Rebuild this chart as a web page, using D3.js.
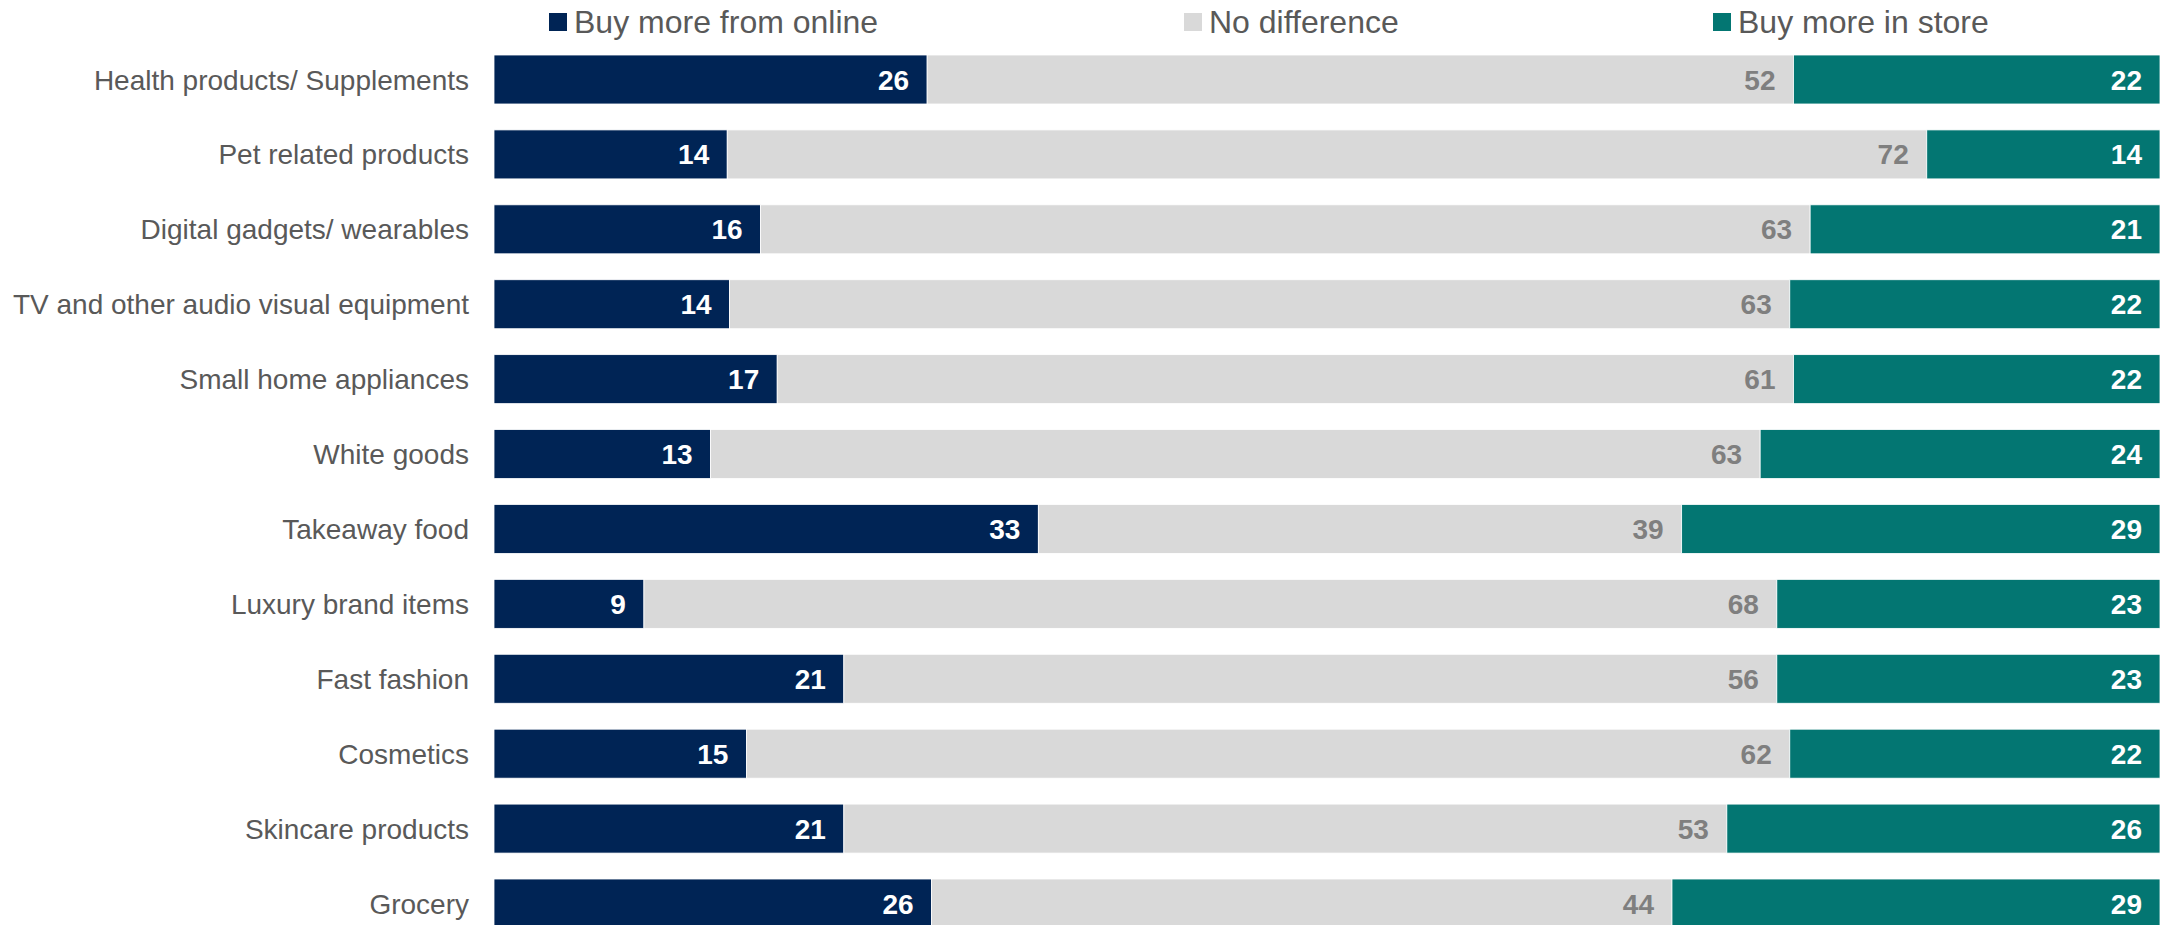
<!DOCTYPE html>
<html>
<head>
<meta charset="utf-8">
<script src="https://cdn.jsdelivr.net/npm/d3@7"></script>
<style>
  html, body { margin: 0; padding: 0; background: #fff; }
  svg { display: block; }
</style>
</head>
<body>
<svg id="chart" width="2164" height="925"></svg>
<script>
// Survey answers: share of respondents per product category (%)
const categories = [
  "Health products/ Supplements",
  "Pet related products",
  "Digital gadgets/ wearables",
  "TV and other audio visual equipment",
  "Small home appliances",
  "White goods",
  "Takeaway food",
  "Luxury brand items",
  "Fast fashion",
  "Cosmetics",
  "Skincare products",
  "Grocery"
];
const seriesNames = ["Buy more from online", "No difference", "Buy more in store"];
const buyOnline    = [26, 14, 16, 14, 17, 13, 33,  9, 21, 15, 21, 26];
const noDifference = [52, 72, 63, 63, 61, 63, 39, 68, 56, 62, 53, 44];
const buyInStore   = [22, 14, 21, 22, 22, 24, 29, 23, 23, 22, 26, 29];

const keys = ["online", "none", "store"];
const colors = { online: "#002455", none: "#d9d9d9", store: "#037672" };
const labelColors = { online: "#ffffff", none: "#7f7f7f", store: "#ffffff" };

const rows = categories.map((c, i) => ({
  category: c,
  online: buyOnline[i],
  none: noDifference[i],
  store: buyInStore[i]
}));

const svg = d3.select("#chart");
const font = "'Liberation Sans', Arial, Helvetica, sans-serif";

// Each row stretched to 100% of its total
const stacked = d3.stack().keys(keys).offset(d3.stackOffsetExpand)(rows);

const x = d3.scaleLinear().domain([0, 1]).range([494, 2160]);
const y = d3.scaleBand()
  .domain(categories)
  .range([55, 928])
  .paddingInner(0.346)
  .paddingOuter(0);

// Bar segments
const layers = svg.append("g").selectAll("g")
  .data(stacked)
  .join("g")
  .attr("fill", d => colors[d.key]);

layers.selectAll("rect")
  .data(d => d)
  .join("rect")
  .attr("x", d => x(d[0]))
  .attr("y", d => y(d.data.category))
  .attr("width", d => x(d[1]) - x(d[0]))
  .attr("height", y.bandwidth())
  .attr("stroke", "#ffffff")
  .attr("stroke-width", 0.8);

// Value labels, right-aligned inside each segment
layers.selectAll("text")
  .data(d => d.map(v => ({ v, key: d.key })))
  .join("text")
  .attr("x", d => x(d.v[1]) - 18)
  .attr("y", d => y(d.v.data.category) + y.bandwidth() / 2)
  .attr("dy", "0.36em")
  .attr("text-anchor", "end")
  .attr("font-family", font)
  .attr("font-weight", "bold")
  .attr("font-size", 28)
  .attr("fill", d => labelColors[d.key])
  .text(d => d.v.data[d.key]);

// Category axis
const yAxis = svg.append("g")
  .attr("transform", `translate(${x(0) - 25},0)`)
  .call(d3.axisLeft(y).tickSize(0).tickPadding(0));
yAxis.select(".domain").remove();
yAxis.selectAll("text")
  .attr("font-family", font)
  .attr("font-size", 28)
  .attr("fill", "#595959")
  .attr("dy", "0.36em");

// Legend
const legendX = [549, 1184, 1713];
const legend = svg.append("g").selectAll("g")
  .data(keys)
  .join("g")
  .attr("transform", (d, i) => `translate(${legendX[i]},0)`);
legend.append("rect")
  .attr("x", 0).attr("y", 13)
  .attr("width", 18).attr("height", 18)
  .attr("fill", d => colors[d]);
legend.append("text")
  .attr("x", 25).attr("y", 33)
  .attr("font-family", font)
  .attr("font-size", 32)
  .attr("fill", "#595959")
  .text((d, i) => seriesNames[i]);
</script>
</body>
</html>
